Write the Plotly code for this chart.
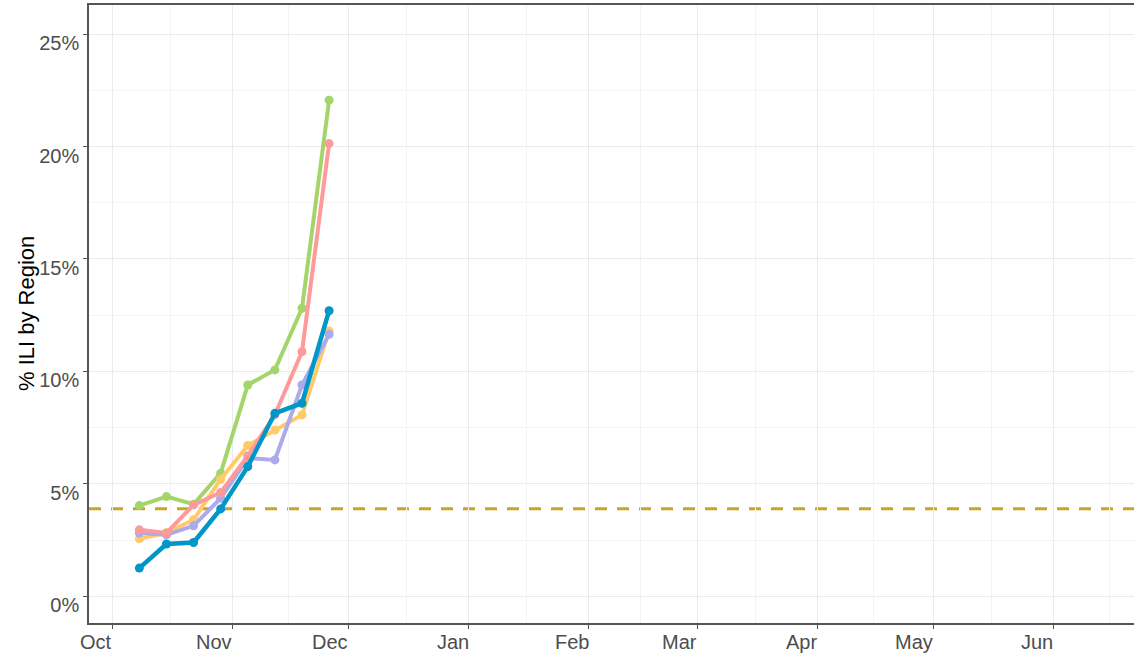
import plotly.graph_objects as go

# ---- data ----
weeks = ["2022-10-08", "2022-10-15", "2022-10-22", "2022-10-29",
         "2022-11-05", "2022-11-12", "2022-11-19", "2022-11-26"]

green = [4.04, 4.44, 4.10, 5.48, 9.40, 10.07, 12.81, 22.06]
yellow = [2.56, 2.83, 3.41, 5.21, 6.71, 7.40, 8.07, 11.80]
purple = [2.82, 2.74, 3.14, 4.37, 6.15, 6.07, 9.40, 11.65]
pink = [2.96, 2.82, 4.07, 4.62, 6.25, 8.07, 10.88, 20.13]
blue = [1.26, 2.33, 2.40, 3.89, 5.77, 8.14, 8.59, 12.70]

baseline = 3.9

month_ticks = ["2022-10-01", "2022-11-01", "2022-12-01", "2023-01-01", "2023-02-01",
               "2023-03-01", "2023-04-01", "2023-05-01", "2023-06-01"]
month_labels = ["Oct", "Nov", "Dec", "Jan", "Feb", "Mar", "Apr", "May", "Jun"]
minor_x = ["2022-10-16", "2022-11-15 12:00", "2022-12-16", "2023-01-16", "2023-02-14 12:00",
           "2023-03-16", "2023-04-15 12:00", "2023-05-16", "2023-06-15 12:00"]
y_ticks = [0, 5, 10, 15, 20, 25]
y_labels = ["0%", "5%", "10%", "15%", "20%", "25%"]
y_minor = [2.5, 7.5, 12.5, 17.5, 22.5]
y_title = "% ILI by Region"

series = [
    ("green", green, "#a3d56b", 4),
    ("yellow", yellow, "#ffcb6a", 4),
    ("purple", purple, "#aaaaec", 4),
    ("pink", pink, "#ff9a9a", 4),
    ("blue", blue, "#0096c7", 4.5),
]

fig = go.Figure()
for name, vals, col, w in series:
    fig.add_trace(go.Scatter(
        x=weeks, y=vals, mode="lines+markers", name=name,
        line=dict(color=col, width=w),
        marker=dict(color=col, size=9),
        showlegend=False,
    ))

fig.add_hline(y=baseline, line=dict(color="#c9a227", width=3, dash="12px,10px"), layer="below")

# x tick labels, right-aligned to their ticks as in the reference
for t, lab in zip(month_ticks, month_labels):
    fig.add_annotation(x=t, y=0, xref="x", yref="paper", text=lab, showarrow=False,
                       xanchor="right", yanchor="top", yshift=-6, xshift=2,
                       font=dict(size=20, color="#4d4d4d"))

fig.add_annotation(x=0, y=0.5, xref="paper", yref="paper", text=y_title, showarrow=False,
                   textangle=-90, xanchor="center", yanchor="middle", xshift=-63,
                   font=dict(size=22, color="black"))

font = "Liberation Sans, Arial, sans-serif"
fig.update_layout(
    width=1134, height=656,
    margin=dict(l=89, r=0, t=5, b=33, autoexpand=False),
    paper_bgcolor="white", plot_bgcolor="white",
    font=dict(family=font, size=20, color="#4d4d4d"),
    xaxis=dict(
        type="date", automargin=False,
        range=["2022-09-25", "2023-06-21 20:00"],
        tickmode="array", tickvals=month_ticks, showticklabels=False,
        showgrid=True, gridcolor="#ebebeb", gridwidth=1.3,
        minor=dict(tickmode="array", tickvals=minor_x, showgrid=True,
                   gridcolor="#f4f4f4", gridwidth=1),
        showline=True, linecolor="#555555", linewidth=1.5, mirror=True,
        ticks="outside", ticklen=4, tickcolor="#555555", tickwidth=1.2,
        zeroline=False,
    ),
    yaxis=dict(
        automargin=False,
        range=[-1.18, 26.29],
        tickmode="array", tickvals=y_ticks, ticktext=y_labels,
        ticklabelshift=9,
        showgrid=True, gridcolor="#ebebeb", gridwidth=1.3,
        minor=dict(tickmode="array", tickvals=y_minor, showgrid=True,
                   gridcolor="#f4f4f4", gridwidth=1),
        showline=True, linecolor="#555555", linewidth=1.5,
        ticks="outside", ticklen=4, tickcolor="#555555", tickwidth=1.2,
        tickfont=dict(size=20, color="#4d4d4d"),
        zeroline=False,
    ),
)

fig.write_html("out.html", post_script="document.body.style.margin='0';",
               config={"displayModeBar": False})
